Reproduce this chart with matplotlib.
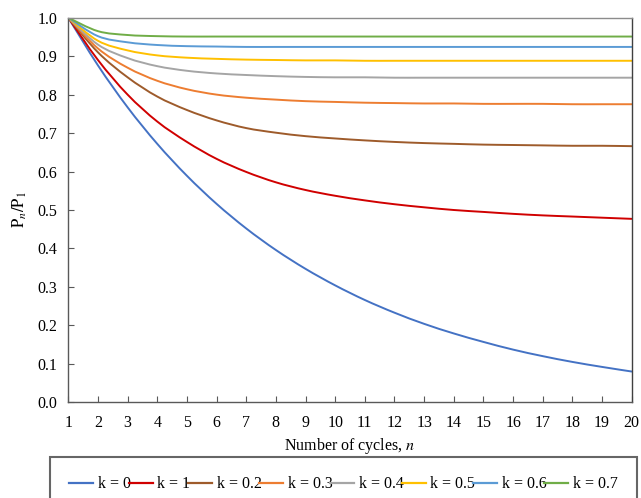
import numpy as np
import matplotlib
matplotlib.use("Agg")
import matplotlib.pyplot as plt
from matplotlib.path import Path
from matplotlib.patches import PathPatch
from matplotlib.lines import Line2D

plt.rcParams['font.family'] = ['Liberation Serif', 'DejaVu Serif']
plt.rcParams['mathtext.fontset'] = 'stix'

# ---------------- data ----------------
cycles = list(range(1, 21))
labels = ["k = 0", "k = 1", "k = 0.2", "k = 0.3", "k = 0.4", "k = 0.5", "k = 0.6", "k = 0.7"]
colors = ["#4472C4", "#D00000", "#9E5B2B", "#ED7D31", "#A5A5A5", "#FFC000", "#5B9BD5", "#70AD47"]

k_0 = [1.000, 0.876, 0.767, 0.672, 0.589, 0.516, 0.452, 0.396, 0.347, 0.304,
       0.266, 0.233, 0.204, 0.179, 0.157, 0.137, 0.120, 0.105, 0.092, 0.080]
k_1 = [1.000, 0.890, 0.800, 0.730, 0.677, 0.633, 0.599, 0.572, 0.552, 0.537,
       0.525, 0.515, 0.507, 0.500, 0.495, 0.490, 0.486, 0.483, 0.480, 0.477]
k_02 = [1.000, 0.910, 0.845, 0.795, 0.760, 0.733, 0.713, 0.701, 0.692, 0.686,
        0.681, 0.677, 0.674, 0.672, 0.670, 0.669, 0.668, 0.667, 0.667, 0.666]
k_03 = [1.000, 0.920, 0.870, 0.836, 0.814, 0.800, 0.792, 0.787, 0.783, 0.781,
        0.779, 0.778, 0.777, 0.777, 0.776, 0.776, 0.776, 0.775, 0.775, 0.775]
k_04 = [1.000, 0.930, 0.895, 0.874, 0.862, 0.855, 0.851, 0.848, 0.846, 0.845,
        0.845, 0.844, 0.844, 0.844, 0.844, 0.844, 0.844, 0.844, 0.844, 0.844]
k_05 = [1.000, 0.940, 0.915, 0.902, 0.896, 0.893, 0.891, 0.890, 0.889, 0.889,
        0.888, 0.888, 0.888, 0.888, 0.888, 0.888, 0.888, 0.888, 0.888, 0.888]
k_06 = [1.000, 0.952, 0.936, 0.929, 0.926, 0.925, 0.924, 0.924, 0.924, 0.924,
        0.924, 0.924, 0.924, 0.924, 0.924, 0.924, 0.924, 0.924, 0.924, 0.924]
k_07 = [1.000, 0.965, 0.955, 0.952, 0.951, 0.951, 0.951, 0.951, 0.951, 0.951,
        0.951, 0.951, 0.951, 0.951, 0.951, 0.951, 0.951, 0.951, 0.951, 0.951]
series = [k_0, k_1, k_02, k_03, k_04, k_05, k_06, k_07]

x_ticks = list(range(1, 21))
y_ticks = [0.0, 0.1, 0.2, 0.3, 0.4, 0.5, 0.6, 0.7, 0.8, 0.9, 1.0]


def smooth_path(xs, ys):
    """Excel-like smoothed line: cubic Bezier segments through the data points."""
    p = np.column_stack([xs, ys]).astype(float)
    n = len(p)
    verts = [p[0]]
    codes = [Path.MOVETO]
    for i in range(n - 1):
        p0 = p[i - 1] if i > 0 else p[i]
        p1 = p[i]
        p2 = p[i + 1]
        p3 = p[i + 2] if i + 2 < n else p[i + 1]
        c1 = p1 + (p2 - p0) / 6.0
        c2 = p2 - (p3 - p1) / 6.0
        verts += [c1, c2, p2]
        codes += [Path.CURVE4] * 3
    return Path(verts, codes)


fig = plt.figure(figsize=(6.41, 4.98), dpi=100)
ax = fig.add_axes([68.3 / 641, 1 - 402.3 / 498, (631.7 - 68.3) / 641, (402.3 - 17.7) / 498])

for vals, col in zip(series, colors):
    patch = PathPatch(smooth_path(cycles, vals), fill=False, edgecolor=col,
                      lw=1.4, capstyle='round', joinstyle='round')
    ax.add_patch(patch)

ax.set_xlim(1, 20)
ax.set_ylim(0, 1.0)
ax.set_xticks(x_ticks)
ax.set_yticks(y_ticks)
ax.set_yticklabels([f"{v:.1f}" for v in y_ticks])
ax.tick_params(direction='in', length=4, width=0.8, colors='#595959',
               labelcolor='black', labelsize=11.5)
ax.tick_params(axis='x', pad=9)
ax.tick_params(axis='y', pad=8)

for side in ['left', 'bottom']:
    ax.spines[side].set_color('#595959')
    ax.spines[side].set_linewidth(1.0)
ax.spines['top'].set_color('#8c8c8c')
ax.spines['top'].set_linewidth(1.0)
ax.spines['right'].set_color('#404040')
ax.spines['right'].set_linewidth(1.0)

ax.set_xlabel('Number of cycles, $n$', fontsize=11.5, labelpad=4)
ax.set_ylabel(r'$\mathrm{P}_{n}/\mathrm{P}_{1}$', fontsize=12, labelpad=6)

handles = [Line2D([0], [0], color=c, lw=1.6) for c in colors]
leg = fig.legend(handles, labels, loc='upper left', ncol=8,
                 bbox_to_anchor=(50 / 641, 1 - 457 / 498, (637 - 50) / 641, 0.0),
                 mode='expand', frameon=True, fancybox=False,
                 fontsize=11.5, handlelength=1.5, handletextpad=0.3,
                 columnspacing=0.5, borderpad=1.2, borderaxespad=0)
leg.get_frame().set_edgecolor('#404040')
leg.get_frame().set_linewidth(1.5)

fig.savefig('out.png', dpi=100)
